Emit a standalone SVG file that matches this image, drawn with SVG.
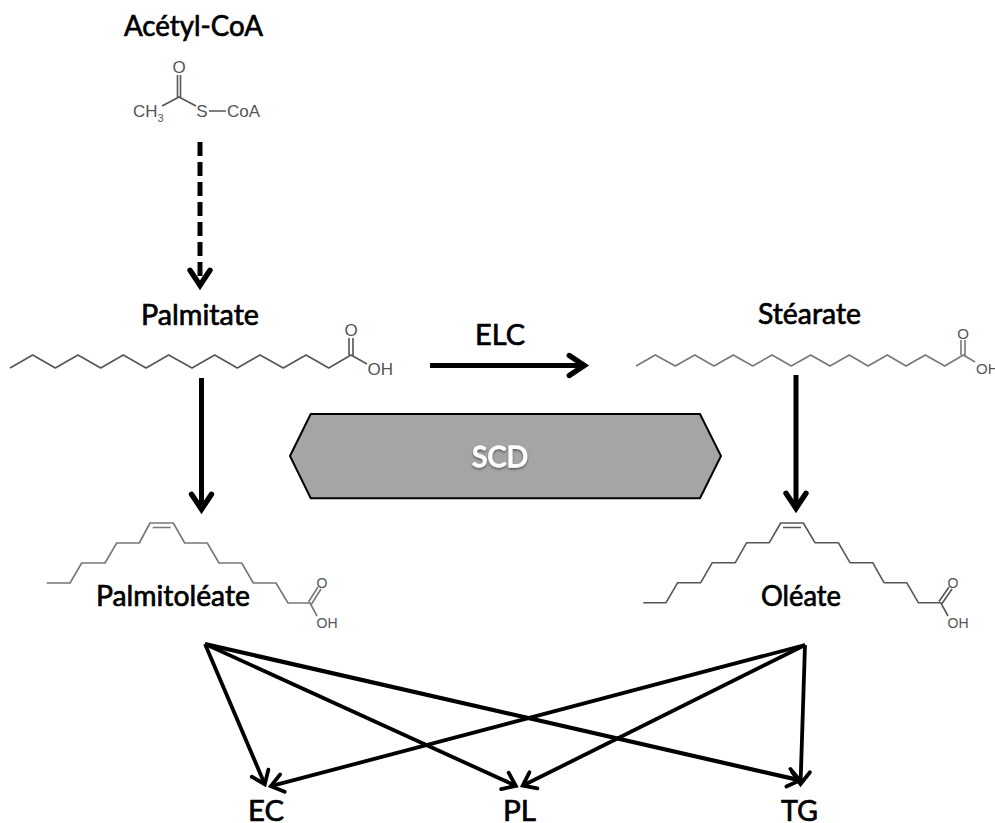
<svg xmlns="http://www.w3.org/2000/svg" width="995" height="823" viewBox="0 0 995 823">
<style>
.lbl{font-family:Lato,"Noto Sans",sans-serif;font-weight:400;font-size:29px;fill:#000;stroke:#000;stroke-width:0.7;text-anchor:middle}
.chem{fill:none;stroke:#666;stroke-width:1.6;stroke-linejoin:round}
.atom{font-family:"Liberation Sans",Arial,sans-serif;fill:#555}
.arr{fill:none;stroke:#000;stroke-width:5;marker-end:url(#big)}
.arr2{fill:none;stroke:#000;stroke-width:3.8;marker-end:url(#small)}
</style>
<defs>
<marker id="big" markerUnits="userSpaceOnUse" viewBox="-20 -14 28 28" markerWidth="28" markerHeight="28" refX="0" refY="0" orient="auto">
<path d="M-13.700,-10 L1.300,0 L-13.700,10" fill="none" stroke="#000" stroke-width="5.400" stroke-linecap="round" stroke-miterlimit="8"/>
</marker>
<marker id="small" markerUnits="userSpaceOnUse" viewBox="-16 -12 24 24" markerWidth="24" markerHeight="24" refX="0" refY="0" orient="auto">
<path d="M-10,-9 L2,0 L-10,9" fill="none" stroke="#000" stroke-width="3.800" stroke-linecap="round" stroke-miterlimit="8"/>
</marker>
<filter id="shadow" x="-20%" y="-20%" width="140%" height="150%">
<feDropShadow dx="0" dy="1.500" stdDeviation="1.200" flood-color="#444" flood-opacity="0.8"/>
</filter>
</defs>

<g id="connectors">
<path class="arr" d="M200,142 L200,284" stroke-dasharray="14 6"/>
<path class="arr" d="M201.500,378 L201.500,508"/>
<path class="arr" d="M796,375 L796,507"/>
<path class="arr" d="M430,365.500 L583,365.500"/>
<path class="arr2" d="M205,644 L264,782.400"/>
<path class="arr2" d="M205,644 L514,785"/>
<path class="arr2" style="stroke-width:4.200" d="M205,644 L798.100,779.900"/>
<path class="arr2" d="M805,645 L272.800,785.700"/>
<path class="arr2" d="M805,645 L524.500,784.800"/>
<path class="arr2" d="M805,645 L800.600,782"/>
</g>

<g id="acetyl-coa">
<text class="lbl" x="193.500" y="36" textLength="139" lengthAdjust="spacingAndGlyphs">Acétyl-CoA</text>
<path class="chem" style="stroke:#555" d="M162,106 L179,97 L196,106 M177.500,75 L177.500,97 M180.500,75 L180.500,97 M209,111 L226,111"/>
<text class="atom" font-size="17" x="179" y="73" text-anchor="middle">O</text>
<text class="atom" font-size="17" x="133" y="117">CH<tspan font-size="11" dy="5">3</tspan></text>
<text class="atom" font-size="17" x="202" y="117" text-anchor="middle">S</text>
<text class="atom" font-size="17" x="227" y="117">CoA</text>
</g>

<g id="palmitate">
<text class="lbl" x="200" y="325" textLength="118" lengthAdjust="spacingAndGlyphs">Palmitate</text>
<path class="chem" style="stroke:#555" d="M10,368 L32.700,355 L55.300,368 L78,355 L100.700,368 L123.300,355 L146,368 L168.700,355 L192,368 L214.700,355 L237.300,368 L260,355 L283.300,368 L306,355 L328.700,368 L351,355 L367,364 M349,338 L349,355 M353,338 L353,357"/>
<text class="atom" font-size="17" x="351" y="336" text-anchor="middle">O</text>
<text class="atom" font-size="17" x="367.500" y="375">OH</text>
</g>

<g id="stearate">
<text class="lbl" x="809.500" y="324" textLength="103" lengthAdjust="spacingAndGlyphs">Stéarate</text>
<path class="chem" style="stroke:#777" d="M636,366 L655.300,355 L675.300,366 L694.700,355 L714,366 L733.300,355 L752.700,366 L772,355 L791.300,366 L810.700,355 L830,366 L849.300,355 L868,366 L887.300,355 L906,366 L925.300,355 L944.700,366 L963.300,355 L975,362 M961,340 L961,355 M965,340 L965,356"/>
<text class="atom" font-size="15" x="963" y="339" text-anchor="middle">O</text>
<text class="atom" font-size="15" x="976" y="374">OH</text>
</g>

<g id="palmitoleate">
<text class="lbl" x="173" y="606" textLength="154" lengthAdjust="spacingAndGlyphs">Palmitoléate</text>
<path class="chem" style="stroke:#777" d="M46.700,583 L70,583 L81.700,563 L105,563 L116.700,543 L139.300,543 L150,523 L173.300,523 L184.700,543 L207.300,543 L219,563 L241.700,563 L253.300,583 L276,583 L288,603 L310,603 L317,616 M152.700,527.500 L170.700,527.500 M308.500,602 L318,587 M311.500,604 L321,589"/>
<text class="atom" font-size="14" x="322" y="588" text-anchor="middle">O</text>
<text class="atom" font-size="14" x="316.500" y="628">OH</text>
</g>

<g id="oleate">
<text class="lbl" x="801" y="606" textLength="80" lengthAdjust="spacingAndGlyphs">Oléate</text>
<path class="chem" style="stroke:#555" d="M643.300,602.700 L666,602.700 L677.700,582.700 L700.700,582.700 L712.300,562.700 L735.300,562.700 L746.700,542.700 L769.300,542.700 L780.700,523 L803.300,523 L815,542.700 L838.300,542.700 L850,562.700 L872.700,562.700 L884,582.700 L906.700,582.700 L918.300,602.700 L940.700,602.700 L948,616 M783,527.500 L801,527.500 M939,601.500 L949,587 M942,603.500 L952,589"/>
<text class="atom" font-size="14" x="953" y="588" text-anchor="middle">O</text>
<text class="atom" font-size="14" x="947.500" y="628">OH</text>
</g>

<g id="elc">
<text class="lbl" x="500" y="344.500" textLength="50" lengthAdjust="spacingAndGlyphs">ELC</text>
</g>

<g id="scd">
<polygon points="290,456 310.700,414 700,414 721,456 700,498.300 310.700,498.300" fill="#a5a5a5" stroke="#000" stroke-width="2"/>
<text class="lbl" x="500" y="466.500" textLength="56" lengthAdjust="spacingAndGlyphs" style="fill:#fff;stroke:#fff;stroke-width:1.300" filter="url(#shadow)">SCD</text>
</g>

<g id="ec"><text class="lbl" x="266" y="820.500" textLength="36" lengthAdjust="spacingAndGlyphs">EC</text></g>
<g id="pl"><text class="lbl" x="519.500" y="820.500" textLength="33" lengthAdjust="spacingAndGlyphs">PL</text></g>
<g id="tg"><text class="lbl" x="799.500" y="820.500" textLength="37" lengthAdjust="spacingAndGlyphs">TG</text></g>
</svg>
